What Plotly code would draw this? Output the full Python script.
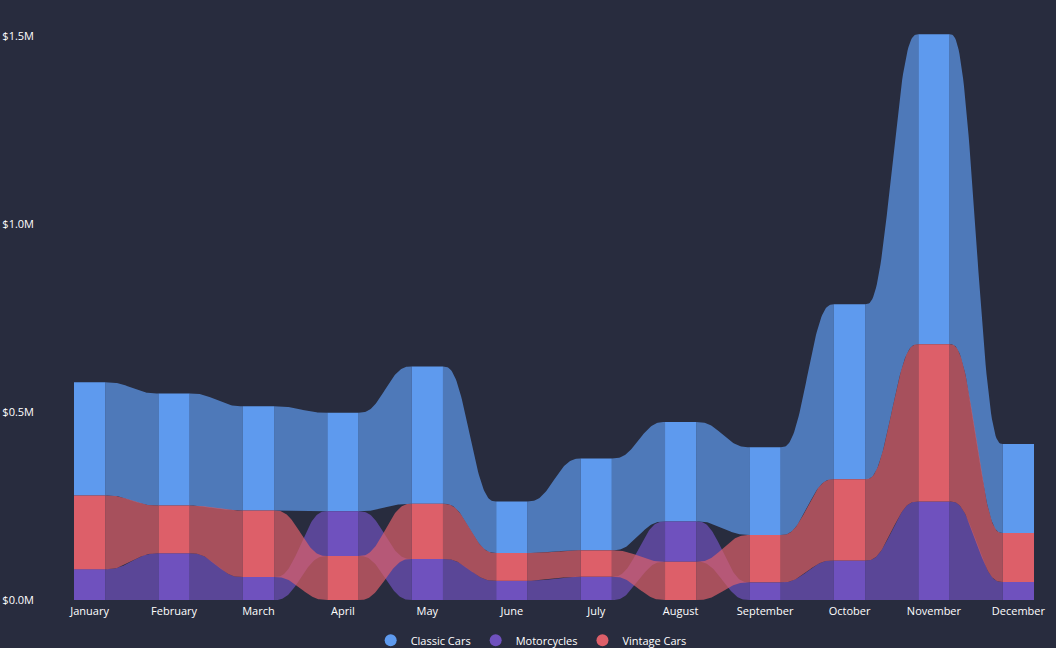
import plotly.graph_objects as go
import numpy as np

months = ["January", "February", "March", "April", "May", "June", "July",
          "August", "September", "October", "November", "December"]
series_names = ["Classic Cars", "Motorcycles", "Vintage Cars"]
classic_cars = [0.301, 0.298, 0.277, 0.262, 0.365, 0.137, 0.244, 0.264, 0.233, 0.465, 0.824, 0.237]
motorcycles = [0.082, 0.124, 0.061, 0.119, 0.109, 0.051, 0.062, 0.107, 0.047, 0.105, 0.262, 0.048]
vintage_cars = [0.196, 0.127, 0.177, 0.117, 0.147, 0.074, 0.070, 0.102, 0.126, 0.216, 0.418, 0.130]
y_tick_vals = [0, 500000, 1000000, 1500000]
y_tick_text = ["$0.0M", "$0.5M", "$1.0M", "$1.5M"]

colors = {"Classic Cars": "#5E9AEE", "Motorcycles": "#6F51BE", "Vintage Cars": "#DD5F69"}
BG = "#282C3E"
BAR_W = 0.37

values = {
    "Classic Cars": [v * 1e6 for v in classic_cars],
    "Motorcycles": [v * 1e6 for v in motorcycles],
    "Vintage Cars": [v * 1e6 for v in vintage_cars],
}

n = len(months)
# ribbon stacking: per month, smallest at bottom, largest on top
bottoms = {s: [0.0] * n for s in series_names}
for i in range(n):
    order = sorted(series_names, key=lambda s: values[s][i])
    acc = 0.0
    for s in order:
        bottoms[s][i] = acc
        acc += values[s][i]


def ease(t):
    return t * t * t * (t * (t * 6 - 15) + 10)


fig = go.Figure()
xs_idx = list(range(n))

# ribbons
for s in series_names:
    px, py = [], []
    for i in range(n - 1):
        x0 = i + BAR_W / 2
        x1 = i + 1 - BAR_W / 2
        t = np.linspace(0, 1, 60)
        e = ease(t)
        xx = x0 + (x1 - x0) * t
        b0, b1 = bottoms[s][i], bottoms[s][i + 1]
        t0, t1 = b0 + values[s][i], b1 + values[s][i + 1]
        top = t0 + (t1 - t0) * e
        bot = b0 + (b1 - b0) * e
        px += list(xx) + list(xx[::-1]) + [None]
        py += list(top) + list(bot[::-1]) + [None]
    fig.add_trace(go.Scatter(
        x=px, y=py, mode="lines", fill="toself", fillcolor=colors[s],
        line=dict(width=0), opacity=0.7, showlegend=False, hoverinfo="skip"))

# bars
for s in series_names:
    fig.add_trace(go.Bar(
        x=xs_idx, y=values[s], base=bottoms[s], width=BAR_W,
        marker=dict(color=colors[s], line=dict(width=0)),
        showlegend=False, name=s))

# legend entries
for s in series_names:
    fig.add_trace(go.Scatter(
        x=[None], y=[None], mode="markers", name=s,
        marker=dict(symbol="circle", size=12, color=colors[s])))

fig.update_layout(
    width=1056, height=648,
    paper_bgcolor=BG, plot_bgcolor=BG,
    margin=dict(l=74, r=22, t=17, b=48, autoexpand=False),
    barmode="overlay",
    font=dict(family="Open Sans, Noto Sans, sans-serif", color="#FFFFFF", size=11),
    showlegend=True,
    legend=dict(orientation="h", xref="container", yref="container",
                x=0.503, xanchor="center", y=0.012, yanchor="middle",
                font=dict(size=11, color="#FFFFFF"),
                tracegroupgap=0, bgcolor="rgba(0,0,0,0)"),
    xaxis=dict(range=[-BAR_W / 2, n - 1 + BAR_W / 2], tickmode="array",
               tickvals=xs_idx, ticktext=months, showgrid=False, zeroline=False,
               showline=False, ticks="", automargin=False, ticklabelstandoff=3,
               tickfont=dict(size=11, color="#FFFFFF")),
    yaxis=dict(range=[0, 1550000], tickmode="array", tickvals=y_tick_vals,
               ticktext=y_tick_text, showgrid=False, zeroline=False, showline=False,
               ticks="", automargin=False, ticklabelstandoff=39,
               tickfont=dict(size=11, color="#FFFFFF")),
)

fig.write_html("out.html", config={"displayModeBar": False},
               post_script="document.body.style.margin='0';document.body.style.overflow='hidden';")
